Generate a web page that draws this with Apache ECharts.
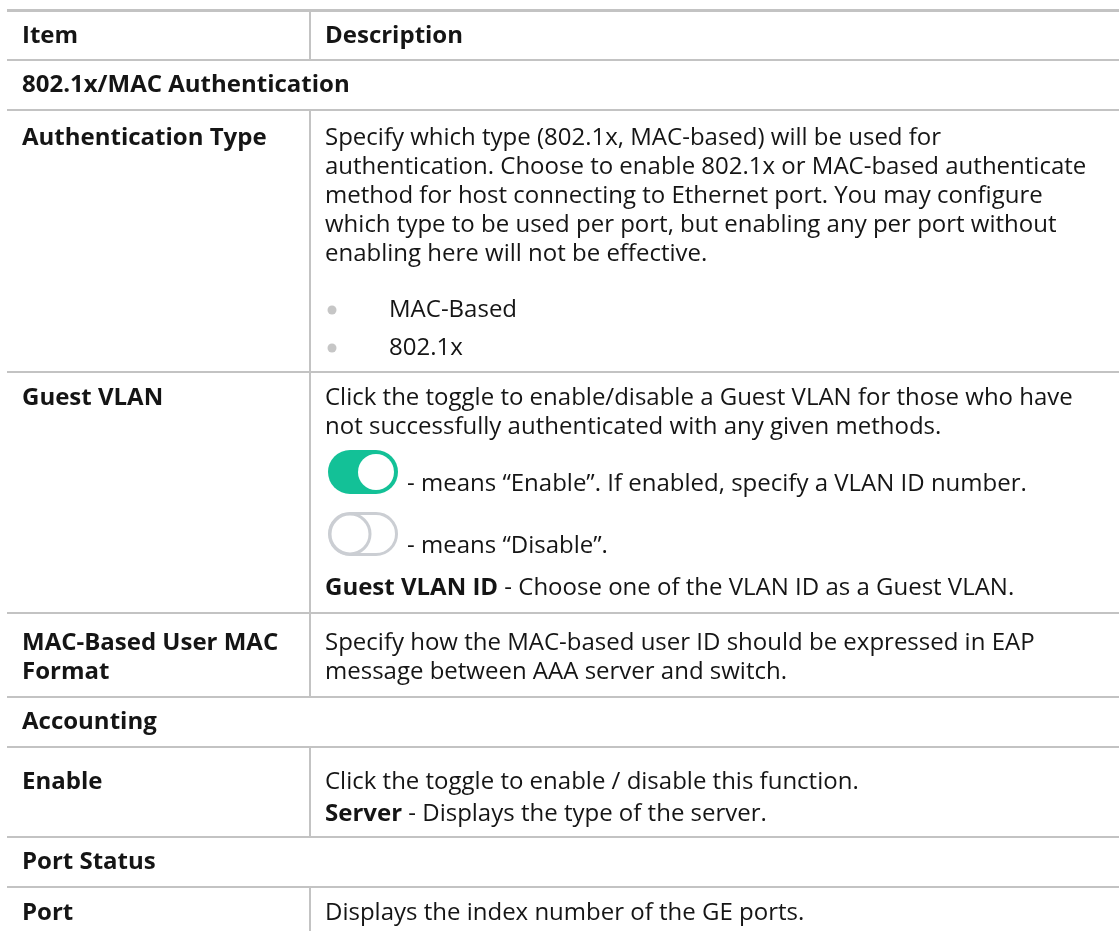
<!DOCTYPE html>
<html>
<head>
<meta charset="utf-8">
<script src="https://cdn.jsdelivr.net/npm/echarts@6/dist/echarts.min.js"></script>
<style>
html,body{margin:0;padding:0;background:#fff;}
#chart{width:1119px;height:931px;}
</style>
</head>
<body>
<div id="chart"></div>
<script>
// ---------------- data ----------------
const headerLabels = ['Item', 'Description'];
const sectionTitles = ['802.1x/MAC Authentication', 'Accounting', 'Port Status'];
const itemLabels = [['Authentication Type'], ['Guest VLAN'], ['MAC-Based User MAC', 'Format'], ['Enable'], ['Port']];
const itemSectionIndex = [0, 0, 0, 1, 2];

const authTypeText = [
  'Specify which type (802.1x, MAC-based) will be used for',
  'authentication. Choose to enable 802.1x or MAC-based authenticate',
  'method for host connecting to Ethernet port. You may configure',
  'which type to be used per port, but enabling any per port without',
  'enabling here will not be effective.'
];
const authTypeBullets = ['MAC-Based', '802.1x'];
const guestVlanText = [
  'Click the toggle to enable/disable a Guest VLAN for those who have',
  'not successfully authenticated with any given methods.'
];
const toggleStates = [true, false];
const toggleNotes = ['- means \u201CEnable\u201D. If enabled, specify a VLAN ID number.', '- means \u201CDisable\u201D.'];
const guestVlanIdNote = ['Guest VLAN ID', ' - Choose one of the VLAN ID as a Guest VLAN.'];
const macFormatText = [
  'Specify how the MAC-based user ID should be expressed in EAP',
  'message between AAA server and switch.'
];
const enableText = ['Click the toggle to enable / disable this function.'];
const serverNote = ['Server', ' - Displays the type of the server.'];
const portText = ['Displays the index number of the GE ports.'];

// description blocks per item (built from the arrays above)
const descriptions = [
  [{kind: 'para', lines: authTypeText}].concat(authTypeBullets.map(t => ({kind: 'bullet', text: t}))),
  [{kind: 'para', lines: guestVlanText}]
    .concat(toggleStates.map((on, i) => ({kind: 'toggle', on: on, text: toggleNotes[i]})))
    .concat([{kind: 'label', bold: guestVlanIdNote[0], rest: guestVlanIdNote[1]}]),
  [{kind: 'para', lines: macFormatText}],
  [{kind: 'para', lines: enableText}, {kind: 'label', bold: serverNote[0], rest: serverNote[1]}],
  [{kind: 'para', lines: portText}]
];

// ---------------- layout / style ----------------
const W = 1119;
const X0 = 7, XDIV = 310, XITEM = 22, XDESC = 325;
const FS = 24;
const FONT = '"Open Sans", sans-serif';
const TEXT = '#151515';
const RULE = '#c3c3c3';
const TOP_LINE_Y = 9;
const HEADER_BOTTOM = 60;
const SECTION_H = 50;
const LINE = 29;
const ROW_PAD_TOP = [28, 26, 30, 35, 26];
const ROW_PAD_BOTTOM = [24, 25, 25, 23, 24];
const GAP = {
  'para>para': 32, 'para>label': 32, 'para>bullet': 56, 'bullet>bullet': 38,
  'para>toggle': 45, 'toggle>toggle': 62, 'toggle>label': 54, 'toggle>para': 54
};
const TOG_W = 70, TOG_H = 44;

const els = [];
function hline(y, h) {
  els.push({type: 'rect', shape: {x: X0, y: y, width: W - X0, height: h}, style: {fill: RULE}, silent: true});
}
function vline(y1, y2) {
  els.push({type: 'rect', shape: {x: XDIV - 1, y: y1, width: 2, height: y2 - y1}, style: {fill: RULE}, silent: true});
}
function txt(x, y, s, bold) {
  els.push({type: 'text', x: x, y: y, style: {
    text: s, fill: TEXT, fontFamily: FONT, fontSize: FS, fontWeight: bold ? 'bold' : 'normal',
    align: 'left', verticalAlign: 'middle', textAlign: 'left', textVerticalAlign: 'middle'
  }, silent: true});
}
function richTxt(x, y, b, rest) {
  els.push({type: 'text', x: x, y: y, style: {
    text: '{b|' + b + '}{n|' + rest + '}', fill: TEXT, fontFamily: FONT, fontSize: FS,
    align: 'left', verticalAlign: 'middle', textAlign: 'left', textVerticalAlign: 'middle',
    rich: {
      b: {fontWeight: 'bold', fontFamily: FONT, fontSize: FS, fill: TEXT, color: TEXT},
      n: {fontWeight: 'normal', fontFamily: FONT, fontSize: FS, fill: TEXT, color: TEXT}
    }
  }, silent: true});
}
function toggle(x, cy, on) {
  const y = cy - TOG_H / 2;
  if (on) {
    els.push({type: 'rect', shape: {x: x, y: y, width: TOG_W, height: TOG_H, r: TOG_H / 2}, style: {fill: '#13c197'}, silent: true});
    els.push({type: 'circle', shape: {cx: x + TOG_W - TOG_H / 2, cy: cy, r: TOG_H / 2 - 4}, style: {fill: '#ffffff'}, silent: true});
  } else {
    els.push({type: 'rect', shape: {x: x + 1.5, y: y + 1.5, width: TOG_W - 3, height: TOG_H - 3, r: (TOG_H - 3) / 2}, style: {fill: '#ffffff', stroke: '#cbced3', lineWidth: 3}, silent: true});
    els.push({type: 'circle', shape: {cx: x + TOG_H / 2, cy: cy, r: TOG_H / 2 - 2}, style: {fill: '#ffffff', stroke: '#cbced3', lineWidth: 3}, silent: true});
  }
}

// header
hline(TOP_LINE_Y, 3);
txt(XITEM, (TOP_LINE_Y + 3 + HEADER_BOTTOM) / 2, headerLabels[0], true);
txt(XDESC, (TOP_LINE_Y + 3 + HEADER_BOTTOM) / 2, headerLabels[1], true);
vline(TOP_LINE_Y + 3, HEADER_BOTTOM);
hline(HEADER_BOTTOM - 1, 2);

let y = HEADER_BOTTOM;
let lastSection = -1;
itemLabels.forEach((labels, i) => {
  if (itemSectionIndex[i] !== lastSection) {
    lastSection = itemSectionIndex[i];
    txt(XITEM, y + SECTION_H / 2, sectionTitles[lastSection], true);
    y += SECTION_H;
    hline(y - 1, 2);
  }
  const rowTop = y;
  let c = rowTop + ROW_PAD_TOP[i];
  labels.forEach((l, k) => txt(XITEM, c + k * LINE, l, true));
  let prev = null;
  descriptions[i].forEach(block => {
    if (prev) c += GAP[prev + '>' + block.kind] || LINE;
    if (block.kind === 'para') {
      block.lines.forEach((l, k) => { if (k > 0) c += LINE; txt(XDESC, c, l, false); });
    } else if (block.kind === 'bullet') {
      els.push({type: 'circle', shape: {cx: XDESC + 7, cy: c, r: 4.5}, style: {fill: '#c6c6c6'}, silent: true});
      txt(XDESC + 64, c, block.text, false);
    } else if (block.kind === 'toggle') {
      toggle(XDESC + 3, c, block.on);
      txt(XDESC + 82, c + 12, block.text, false);
    } else if (block.kind === 'label') {
      richTxt(XDESC, c, block.bold, block.rest);
    }
    prev = block.kind;
  });
  const labelEnd = rowTop + ROW_PAD_TOP[i] + (labels.length - 1) * LINE;
  const rowBottom = Math.max(c, labelEnd) + ROW_PAD_BOTTOM[i];
  vline(rowTop + 1, i === itemLabels.length - 1 ? 931 : rowBottom);
  y = rowBottom;
  if (i !== itemLabels.length - 1) hline(y - 1, 2);
});

const chart = echarts.init(document.getElementById('chart'), null, {renderer: 'canvas'});
chart.setOption({
  animation: false,
  backgroundColor: '#ffffff',
  graphic: {elements: els}
});
</script>
</body>
</html>
